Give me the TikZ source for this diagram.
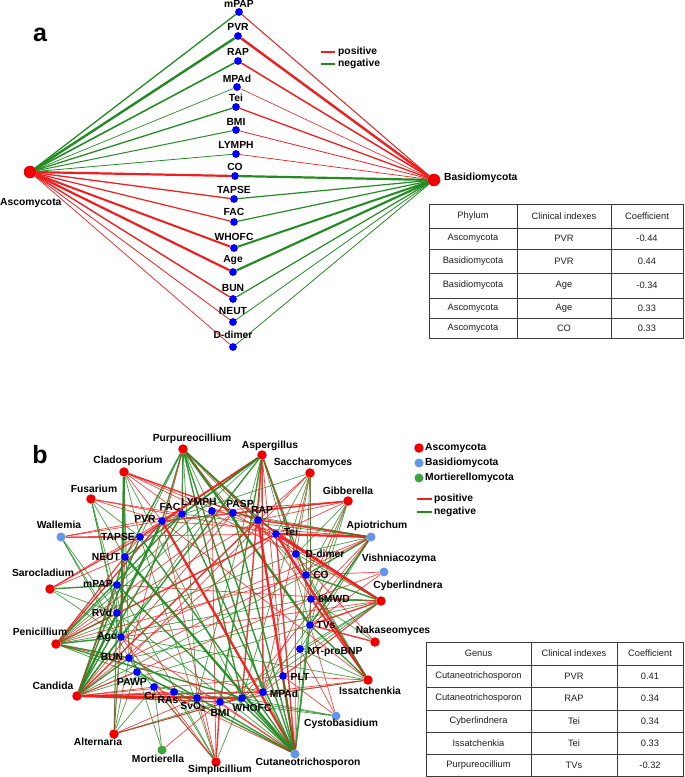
\documentclass[tikz,border=0pt]{standalone}
\usepackage{fontspec}
\setmainfont{Liberation Sans}
\usetikzlibrary{backgrounds}
\definecolor{ered}{RGB}{240,30,30}
\definecolor{egreen}{RGB}{34,139,34}
\definecolor{dblue}{RGB}{0,0,255}
\definecolor{dred}{RGB}{240,0,0}
\definecolor{lblue}{RGB}{100,149,237}
\definecolor{dgreen}{RGB}{60,165,60}
\definecolor{tline}{RGB}{60,60,60}
\definecolor{ttext}{RGB}{30,30,30}
\newcommand\anode[5]{\node[bdot] (#1) at (#2,#3) {}; \node[lab] (#1l) at (#2,#3-#5) {#4};}
\begin{document}
\begin{tikzpicture}[x=1pt,y=-1pt,
  lab/.style={font=\bfseries\fontsize{10.3}{12}\selectfont, inner sep=0pt},
  panlab/.style={font=\bfseries\fontsize{25}{28}\selectfont, inner sep=0pt},
  tab/.style={font=\fontsize{9.3}{11}\selectfont, text=ttext, inner sep=0pt},
  bdot/.style={circle, fill=dblue, inner sep=0pt, minimum size=7.8pt},
  rbig/.style={circle, fill=dred, inner sep=0pt, minimum size=12.5pt},
  gdot/.style={circle, fill=dred, inner sep=0pt, minimum size=9.5pt},
  ldot/.style={circle, fill=lblue, inner sep=0pt, minimum size=9pt},
  mdot/.style={circle, fill=dgreen, inner sep=0pt, minimum size=9pt},
  r1/.style={draw=ered, line width=0.75pt, opacity=0.8},
  r2/.style={draw=ered, line width=1.4pt, opacity=0.9},
  r3/.style={draw=ered, line width=2.3pt, opacity=0.95},
  g1/.style={draw=egreen, line width=0.75pt, opacity=0.8},
  g2/.style={draw=egreen, line width=1.4pt, opacity=0.9},
  g3/.style={draw=egreen, line width=2.3pt, opacity=0.95},
  tabline/.style={draw=tline, line width=0.9pt}
]
\useasboundingbox (0,0) rectangle (685,777);

% ================= panel a =================
\node[panlab] (pa) at (40,35) {a};
\node[rbig] (asc) at (30,172) {};
\node[lab, anchor=west] (ascl) at (0,203) {Ascomycota};
\node[rbig] (bas) at (434,180) {};
\node[lab, anchor=west] (basl) at (444,178) {Basidiomycota};

\anode{amPAP}{239}{12}{mPAP}{8}
\anode{aPVR}{238}{36}{PVR}{9}
\anode{aRAP}{238}{61}{RAP}{9}
\anode{aMPAd}{237}{87}{MPAd}{8}
\anode{aTei}{236}{107}{Tei}{9}
\anode{aBMI}{236}{130}{BMI}{8}
\anode{aLYMPH}{236}{154}{LYMPH}{9}
\anode{aCO}{235}{176}{CO}{9}
\anode{aTAPSE}{234}{199}{TAPSE}{9}
\anode{aFAC}{234}{222}{FAC}{10}
\anode{aWHOFC}{234}{248}{WHOFC}{11}
\anode{aAge}{233}{272}{Age}{12}
\anode{aBUN}{233}{299}{BUN}{11}
\anode{aNEUT}{233}{322}{NEUT}{11}
\anode{aDd}{233}{347}{D-dimer}{12}

\begin{scope}[on background layer]
\foreach \n/\c/\w in {amPAP/egreen/1.3, aPVR/egreen/2.4, aRAP/egreen/1.6, aMPAd/egreen/0.7,
  aTei/egreen/1.3, aBMI/egreen/1.0, aLYMPH/egreen/0.8, aCO/ered/2.2, aTAPSE/ered/1.3,
  aFAC/ered/1.2, aWHOFC/ered/2.0, aAge/ered/2.2, aBUN/ered/1.4, aNEUT/ered/0.8, aDd/ered/0.7}
  {\draw[draw=\c, line width=\w pt] (asc) -- (\n);}
\foreach \n/\c/\w in {amPAP/ered/1.0, aPVR/ered/2.4, aRAP/ered/1.5, aMPAd/ered/0.6,
  aTei/ered/1.3, aBMI/ered/0.8, aLYMPH/ered/0.7, aCO/egreen/2.2, aTAPSE/egreen/1.2,
  aFAC/egreen/1.2, aWHOFC/egreen/2.0, aAge/egreen/2.2, aBUN/egreen/1.2, aNEUT/egreen/0.8, aDd/egreen/0.8}
  {\draw[draw=\c, line width=\w pt] (bas) -- (\n);}
\end{scope}

% legend a
\draw[ered, line width=2.5pt] (321,52) -- (335,52);
\node[lab, anchor=west] (lpos) at (338,52) {positive};
\draw[egreen, line width=2.5pt] (321,64) -- (335,64);
\node[lab, anchor=west] (lneg) at (338,64) {negative};

% table a
\draw[tabline] (429,204) rectangle (683,338);
\foreach \y in {228,249,273,298,318} \draw[tabline] (429,\y) -- (683,\y);
\foreach \x in {517,611} \draw[tabline] (\x,204) -- (\x,338);
\node[tab] (tah1) at (473,216) {Phylum};
\node[tab] (tah2) at (564,216) {Clinical indexes};
\node[tab] (tah3) at (647,216) {Coefficient};
\foreach \y/\p/\c/\v [count=\i] in {238.5/Ascomycota/PVR/-0.44, 261/Basidiomycota/PVR/0.44,
  285.5/Basidiomycota/Age/-0.34, 308/Ascomycota/Age/0.33, 328/Ascomycota/CO/0.33}
{\node[tab] (ta\i p) at (473,\y) {\p};
 \node[tab] (ta\i c) at (564,\y) {\c};
 \node[tab] (ta\i v) at (647,\y) {\v};}

% ================= panel b =================
\node[panlab] (pb) at (40,455) {b};

% genus nodes
\node[gdot] (Pur) at (183,449) {}; \node[lab] (Purl) at (192,439) {Purpureocillium};
\node[gdot] (Asp) at (262,455) {}; \node[lab] (Aspl) at (270,446) {Aspergillus};
\node[gdot] (Cla) at (124,472) {}; \node[lab] (Clal) at (128,461) {Cladosporium};
\node[gdot] (Sac) at (310,473) {}; \node[lab] (Sacl) at (313,463) {Saccharomyces};
\node[gdot] (Fus) at (91,499) {};  \node[lab] (Fusl) at (94,489) {Fusarium};
\node[gdot] (Gib) at (348,501) {}; \node[lab] (Gibl) at (348,491) {Gibberella};
\node[ldot] (Wal) at (61,537) {};  \node[lab] (Wall) at (59,525) {Wallemia};
\node[ldot] (Api) at (371,537) {}; \node[lab] (Apil) at (377,526) {Apiotrichum};
\node[ldot] (Vis) at (384,572) {}; \node[lab] (Visl) at (399,559) {Vishniacozyma};
\node[gdot] (Sar) at (50,589) {};  \node[lab] (Sarl) at (43,573) {Sarocladium};
\node[gdot] (Cyb) at (381,601) {}; \node[lab] (Cybl) at (408,586) {Cyberlindnera};
\node[gdot] (Pen) at (56,644) {};  \node[lab] (Penl) at (40,632) {Penicillium};
\node[gdot] (Nak) at (375,642) {}; \node[lab] (Nakl) at (393,631) {Nakaseomyces};
\node[gdot] (Can) at (77,696) {};  \node[lab] (Canl) at (53,686) {Candida};
\node[gdot] (Iss) at (368,680) {}; \node[lab] (Issl) at (370,691) {Issatchenkia};
\node[gdot] (Alt) at (114,734) {}; \node[lab] (Altl) at (98,742) {Alternaria};
\node[ldot] (Cys) at (336,716) {}; \node[lab] (Cysl) at (341,724) {Cystobasidium};
\node[mdot] (Mor) at (162,750) {}; \node[lab] (Morl) at (158,759) {Mortierella};
\node[gdot] (Sim) at (216,762) {}; \node[lab] (Siml) at (220,770) {Simplicillium};
\node[ldot] (Cut) at (295,754) {}; \node[lab] (Cutl) at (308,763) {Cutaneotrichosporon};

% clinical index nodes
\node[bdot] (bPVR) at (162,521) {};   \node[lab] (bPVRl) at (145,519) {PVR};
\node[bdot] (bFAC) at (182,514) {};   \node[lab] (bFACl) at (170,507) {FAC};
\node[bdot] (bLYMPH) at (212,511) {}; \node[lab] (bLYMPHl) at (199,502) {LYMPH};
\node[bdot] (bPASP) at (233,513) {};  \node[lab] (bPASPl) at (240,504) {PASP};
\node[bdot] (bRAP) at (258,520) {};   \node[lab] (bRAPl) at (262,510) {RAP};
\node[bdot] (bTei) at (276,534) {};   \node[lab] (bTeil) at (291,532) {Tei};
\node[bdot] (bDd) at (296,554) {};    \node[lab] (bDdl) at (325,554) {D-dimer};
\node[bdot] (bCO) at (306,575) {};    \node[lab] (bCOl) at (321,575) {CO};
\node[bdot] (bMWD) at (311,599) {};   \node[lab] (bMWDl) at (334,599) {6MWD};
\node[bdot] (bTVs) at (310,625) {};   \node[lab] (bTVsl) at (326,625) {TVs};
\node[bdot] (bNT) at (300,649) {};    \node[lab] (bNTl) at (335,652) {NT-proBNP};
\node[bdot] (bPLT) at (283,676) {};   \node[lab] (bPLTl) at (300,677) {PLT};
\node[bdot] (bMPAd) at (263,692) {};  \node[lab] (bMPAdl) at (284,694) {MPAd};
\node[bdot] (bWHOFC) at (242,698) {}; \node[lab] (bWHOFCl) at (252,708) {WHOFC};
\node[bdot] (bBMI) at (220,702) {};   \node[lab] (bBMIl) at (220,713) {BMI};
\node[bdot] (bSvO) at (197,698) {};   \node[lab] (bSvOl) at (193,707) {SvO\textsubscript{2}};
\node[bdot] (bRAs) at (174,692) {};   \node[lab] (bRAsl) at (168,700) {RAs};
\node[bdot] (bCr) at (154,687) {};    \node[lab] (bCrl) at (150,696) {Cr};
\node[bdot] (bPAWP) at (137,672) {};  \node[lab] (bPAWPl) at (132,682) {PAWP};
\node[bdot] (bBUN) at (129,658) {};   \node[lab] (bBUNl) at (112,657) {BUN};
\node[bdot] (bAge) at (121,637) {};   \node[lab] (bAgel) at (107,637) {Age};
\node[bdot] (bRVd) at (117,613) {};   \node[lab] (bRVdl) at (102,613) {RVd};
\node[bdot] (bmPAP) at (117,585) {};  \node[lab] (bmPAPl) at (98,584) {mPAP};
\node[bdot] (bNEUT) at (125,557) {};  \node[lab] (bNEUTl) at (106,557) {NEUT};
\node[bdot] (bTAPSE) at (140,537) {}; \node[lab] (bTAPSEl) at (118,537) {TAPSE};

\begin{scope}[on background layer]
\foreach \ea/\eb/\es in {
 Pur/PVR/g2, Pur/FAC/g2, Pur/TVs/g3, Pur/TAPSE/g1, Pur/NEUT/g2, Pur/RAP/r2, Pur/Tei/g2,
 Pur/WHOFC/g2, Pur/MPAd/g2, Pur/BUN/r1, Pur/CO/g1, Pur/LYMPH/g1, Pur/PASP/r1, Pur/SvO/g1,
 Asp/PVR/r2, Asp/TAPSE/r2, Asp/FAC/g2, Asp/RAP/g1, Asp/CO/g2, Asp/Dd/g1, Asp/WHOFC/r2,
 Asp/MPAd/r2, Asp/PLT/r1, Asp/BMI/g2, Asp/SvO/g1, Asp/Age/g2, Asp/NEUT/g2, Asp/mPAP/g1,
 Asp/TVs/g1, Asp/MWD/r1,
 Cla/Age/g3, Cla/NEUT/g1, Cla/TAPSE/g1, Cla/PVR/r1, Cla/RAP/r2, Cla/Tei/r1, Cla/FAC/r1,
 Cla/WHOFC/g1, Cla/BUN/g1, Cla/Dd/r1,
 Sac/PVR/g1, Sac/RAP/r1, Sac/Tei/g1, Sac/Dd/g1, Sac/CO/g1, Sac/TVs/r1, Sac/MWD/g1,
 Sac/MPAd/r1, Sac/WHOFC/g1, Sac/BUN/r1,
 Fus/NEUT/g1, Fus/TAPSE/g1, Fus/RVd/g1, Fus/PAWP/g1, Fus/FAC/r1, Fus/PVR/r1, Fus/Tei/r1, Fus/Age/g1,
 Gib/PASP/r1, Gib/LYMPH/r1, Gib/PVR/r2, Gib/CO/g1, Gib/Dd/g1, Gib/Tei/r1, Gib/TVs/g1,
 Gib/RAP/r1, Gib/MPAd/r1, Gib/MWD/g1,
 Wal/PVR/r1, Wal/FAC/r1, Wal/TAPSE/g1, Wal/RVd/g1, Wal/Tei/r1, Wal/Age/g1, Wal/PAWP/g1,
 Api/Tei/r3, Api/RAP/r2, Api/Dd/g1, Api/CO/g2, Api/PVR/r1, Api/TVs/g2, Api/MWD/r1,
 Api/LYMPH/r1, Api/PASP/g1, Api/MPAd/g1, Api/NT/g1, Api/WHOFC/r1, Api/FAC/g1, Api/BUN/r1, Api/Age/r1,
 Vis/CO/r1, Vis/MWD/r1, Vis/TVs/r1,
 Sar/NEUT/r1, Sar/TAPSE/r1, Sar/mPAP/g2, Sar/FAC/r1, Sar/RVd/g1, Sar/Age/g1, Sar/PVR/r1,
 Cyb/Tei/r3, Cyb/Dd/g1, Cyb/CO/g2, Cyb/TVs/r2, Cyb/MWD/g2, Cyb/RAP/r2, Cyb/PASP/r1,
 Cyb/NT/g1, Cyb/MPAd/r1, Cyb/BMI/g1, Cyb/PLT/r1, Cyb/mPAP/r1, Cyb/BUN/g1, Cyb/Age/r1, Cyb/WHOFC/g1,
 Pen/PVR/r2, Pen/FAC/g2, Pen/LYMPH/g1, Pen/RAP/r1, Pen/Tei/r2, Pen/TAPSE/r1, Pen/mPAP/g1,
 Pen/RVd/g1, Pen/Age/g2, Pen/BUN/g2, Pen/PASP/r1, Pen/WHOFC/g2, Pen/MPAd/r1, Pen/MWD/g1,
 Pen/CO/r1, Pen/Dd/g1, Pen/SvO/g1, Pen/NEUT/r1,
 Nak/TVs/r2, Nak/Tei/r1, Nak/MWD/g1,
 Can/PVR/g3, Can/FAC/g2, Can/WHOFC/r3, Can/BMI/r2, Can/SvO/r2, Can/RAs/r1, Can/MPAd/r2,
 Can/RAP/r2, Can/TAPSE/g2, Can/NEUT/g2, Can/LYMPH/g1, Can/PASP/r1, Can/Tei/r1, Can/Cr/r1,
 Can/PAWP/r1, Can/BUN/g2, Can/mPAP/r1, Can/Age/g2, Can/RVd/g1, Can/CO/g1, Can/MWD/r1,
 Can/TVs/g1, Can/PLT/r1,
 Iss/Tei/r3, Iss/TVs/g2, Iss/MWD/r2, Iss/CO/g1, Iss/PLT/r1, Iss/RAP/r1, Iss/Dd/g1, Iss/NT/g1,
 Iss/MPAd/r1, Iss/WHOFC/g1, Iss/BMI/r1, Iss/PVR/r1, Iss/Age/g1,
 Alt/PAWP/g1, Alt/Cr/g1, Alt/BUN/g1, Alt/WHOFC/r1, Alt/BMI/g1, Alt/Age/g1, Alt/RVd/g1,
 Alt/mPAP/g1, Alt/NEUT/r1, Alt/SvO/r1, Alt/MPAd/r1,
 Cys/TVs/r1, Cys/WHOFC/g1, Cys/PLT/r1, Cys/NT/r1, Cys/Cr/g1, Cys/BMI/g1,
 Mor/Cr/g1, Mor/BMI/r1, Mor/PAWP/g1,
 Sim/BMI/r2, Sim/SvO/r1, Sim/BUN/g1, Sim/PVR/r1, Sim/Cr/r1, Sim/RAs/g1, Sim/Age/r1,
 Sim/WHOFC/g1, Sim/mPAP/g1, Sim/TAPSE/g1, Sim/LYMPH/r1,
 Cut/PVR/r3, Cut/RAP/r3, Cut/TAPSE/g2, Cut/FAC/g2, Cut/LYMPH/g2, Cut/PASP/g2, Cut/NEUT/g3,
 Cut/mPAP/g2, Cut/Age/r1, Cut/BUN/g2, Cut/PAWP/g2, Cut/Cr/r1, Cut/WHOFC/g2, Cut/MPAd/g1,
 Cut/PLT/g2, Cut/TVs/g2, Cut/MWD/g1, Cut/CO/g1, Cut/Dd/r1, Cut/Tei/r2, Cut/RVd/g1, Cut/BMI/r1}
 {\draw[\es] (\ea) -- (b\eb);}
\end{scope}

% legend b
\node[gdot] (lgA) at (419,448) {}; \node[lab, anchor=west] (lgAl) at (425,448) {Ascomycota};
\node[ldot] (lgB) at (419,463) {}; \node[lab, anchor=west] (lgBl) at (425,463) {Basidiomycota};
\node[mdot] (lgM) at (419,478) {}; \node[lab, anchor=west] (lgMl) at (425,478) {Mortierellomycota};
\draw[ered, line width=2.5pt] (417,499) -- (432,499);
\node[lab, anchor=west] (lbpos) at (434,499) {positive};
\draw[egreen, line width=2.5pt] (417,512) -- (432,512);
\node[lab, anchor=west] (lbneg) at (434,512) {negative};

% table b
\draw[tabline] (426,642) rectangle (683,776);
\foreach \y in {665,687,710,732,754} \draw[tabline] (426,\y) -- (683,\y);
\foreach \x in {531,617} \draw[tabline] (\x,642) -- (\x,776);
\node[tab] (tbh1) at (478.5,653.5) {Genus};
\node[tab] (tbh2) at (574,653.5) {Clinical indexes};
\node[tab] (tbh3) at (650,653.5) {Coefficient};
\foreach \y/\p/\c/\v [count=\i] in {676/Cutaneotrichosporon/PVR/0.41, 698.5/Cutaneotrichosporon/RAP/0.34,
  721/Cyberlindnera/Tei/0.34, 743/Issatchenkia/Tei/0.33, 765/Purpureocillium/TVs/-0.32}
{\node[tab] (tb\i p) at (478.5,\y) {\p};
 \node[tab] (tb\i c) at (574,\y) {\c};
 \node[tab] (tb\i v) at (650,\y) {\v};}
\end{tikzpicture}
\end{document}
